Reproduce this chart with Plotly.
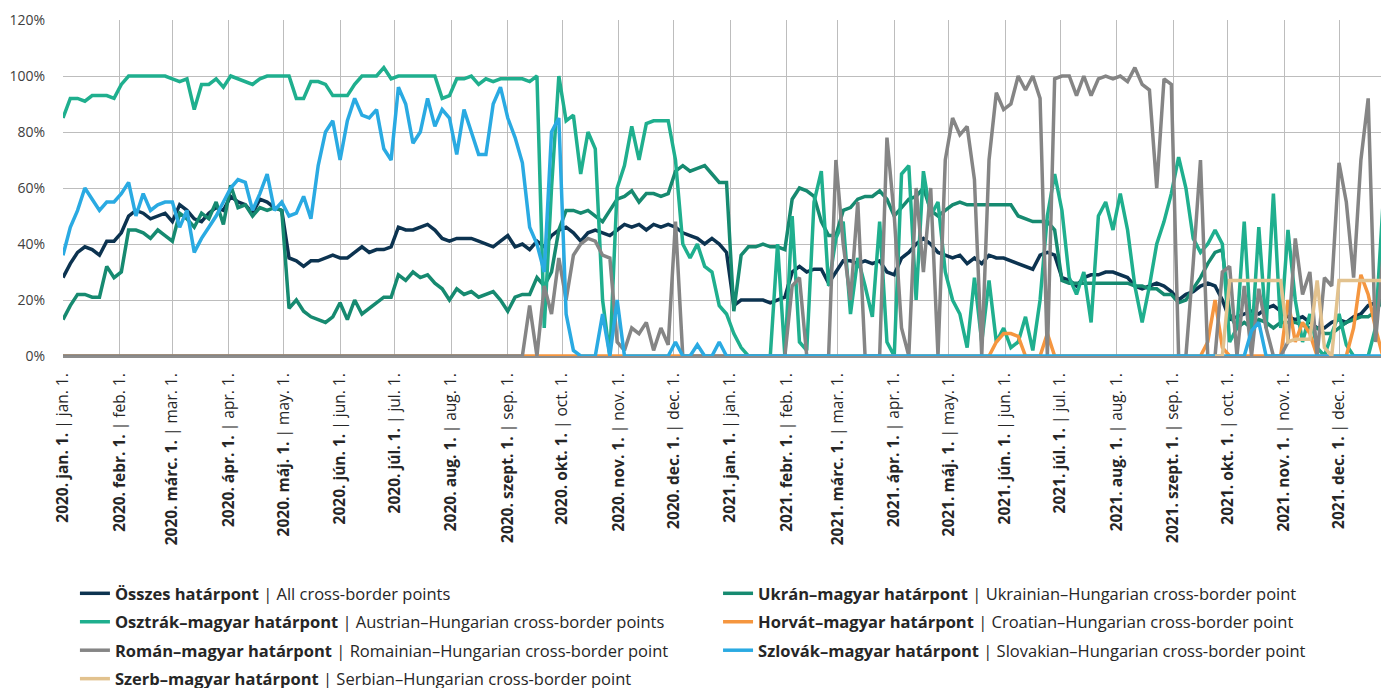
import pandas as pd
import plotly.graph_objects as go

# ---- data: 4-day sampling grid starting 2020-01-01 ----
dates = pd.date_range("2020-01-01", periods=183, freq="4D")

osszes = [
    28, 33, 37, 39, 38, 36, 41, 41, 44, 50, 52, 51, 49, 50, 51, 48, 54, 52, 49, 48, 51, 53, 52, 57, 55,
    54, 51, 56, 55, 53, 52, 35, 34, 32, 34, 34, 35, 36, 35, 35, 37, 39, 37, 38, 38, 39, 46, 45, 45, 46, 47, 45, 42, 41, 42, 42,
    42, 41, 40, 39, 41, 43, 39, 40, 38, 41, 39, 43, 45, 46, 44, 41, 44, 45, 44, 43, 45, 47, 46, 47, 45, 47, 46, 47, 46, 44, 43, 42,
    40, 42, 40, 37, 18, 20, 20, 20, 20, 19, 20, 21, 30, 32, 30, 31, 31, 26, 30, 34, 34, 33, 34, 33, 34, 30, 29, 35, 37, 40, 42,
    40, 37, 36, 35, 36, 33, 35, 33, 36, 35, 35, 34, 33, 32, 31, 36, 37, 36, 28, 27, 25, 28, 29, 29, 30, 30, 29, 28, 25, 24, 25, 26,
    25, 23, 20, 22, 23, 25, 26, 25, 20, 13, 14, 15, 16, 15, 17, 18, 16, 14, 13, 14, 12, 10, 10, 12, 13, 12, 14, 15, 18, 19, 20, 21,
]

osztrak = [
    85, 92, 92, 91, 93, 93, 93, 92, 97, 100, 100, 100, 100, 100, 100, 99, 98, 99, 88, 97, 97, 99, 96, 100, 99,
    98, 97, 99, 100, 100, 100, 100, 92, 92, 98, 98, 97, 93, 93, 93, 97, 100, 100, 100, 103, 99, 100, 100, 100, 100, 100, 100, 92, 93, 99, 99,
    100, 97, 99, 98, 99, 99, 99, 99, 98, 100, 10, 60, 100, 84, 86, 65, 80, 74, 20, 0, 60, 68, 82, 70, 83, 84, 84, 84, 70, 40, 35, 40,
    32, 30, 18, 15, 8, 3, 0, 0, 0, 0, 40, 0, 50, 5, 2, 55, 66, 25, 42, 48, 15, 35, 25, 14, 48, 5, 0, 65, 68, 20, 66,
    50, 55, 30, 20, 15, 3, 28, 5, 27, 5, 10, 3, 5, 14, 2, 20, 50, 65, 52, 28, 22, 30, 12, 50, 55, 45, 58, 45, 25, 12, 25, 40,
    48, 58, 71, 60, 42, 37, 40, 45, 40, 5, 10, 48, 5, 46, 10, 58, 10, 45, 20, 5, 15, 3, 0, 8, 15, 4, 0, 0, 0, 10, 53, 38,
]

ukran = [
    13, 18, 22, 22, 21, 21, 32, 28, 30, 45, 45, 44, 42, 45, 43, 41, 51, 49, 46, 51, 49, 55, 47, 61, 53,
    54, 50, 53, 52, 53, 52, 17, 20, 16, 14, 13, 12, 14, 19, 13, 20, 15, 17, 19, 21, 21, 29, 27, 30, 28, 29, 26, 24, 20, 24, 22,
    23, 21, 22, 23, 20, 16, 21, 22, 22, 28, 25, 30, 45, 52, 52, 51, 52, 50, 48, 52, 56, 57, 59, 55, 58, 58, 57, 58, 66, 68, 66, 67,
    68, 65, 62, 62, 16, 36, 39, 39, 40, 39, 39, 38, 56, 60, 59, 57, 48, 43, 43, 52, 53, 56, 57, 57, 59, 56, 50, 53, 56, 57, 60,
    52, 50, 52, 54, 55, 54, 54, 54, 54, 54, 54, 54, 50, 49, 48, 48, 48, 45, 27, 26, 26, 26, 26, 26, 26, 26, 26, 26, 25, 25, 24, 24,
    22, 22, 19, 20, 24, 28, 33, 37, 38, 15, 10, 12, 10, 13, 12, 10, 12, 12, 12, 11, 10, 10, 8, 8, 10, 12, 13, 14, 14, 16, 20, 22,
]

roman = [
    0, 0, 0, 0, 0, 0, 0, 0, 0, 0, 0, 0, 0, 0, 0, 0, 0, 0, 0, 0, 0, 0, 0, 0, 0,
    0, 0, 0, 0, 0, 0, 0, 0, 0, 0, 0, 0, 0, 0, 0, 0, 0, 0, 0, 0, 0, 0, 0, 0, 0, 0, 0, 0, 0, 0, 0,
    0, 0, 0, 0, 0, 0, 0, 0, 18, 0, 25, 15, 35, 20, 36, 40, 42, 41, 36, 35, 5, 2, 10, 8, 12, 2, 10, 4, 48, 0, 0, 0,
    0, 0, 0, 0, 0, 0, 0, 0, 0, 0, 0, 0, 25, 28, 0, 0, 0, 0, 70, 40, 20, 55, 0, 0, 0, 78, 50, 10, 0, 60, 30,
    60, 0, 70, 85, 79, 82, 63, 0, 70, 94, 88, 90, 100, 95, 100, 92, 0, 99, 100, 100, 93, 100, 93, 99, 100, 99, 100, 98, 103, 97, 95, 60,
    99, 97, 0, 0, 33, 70, 0, 0, 30, 32, 0, 25, 0, 24, 10, 0, 0, 5, 42, 22, 30, 0, 28, 25, 69, 55, 28, 70, 92, 5, 35, 40,
]

horvat = [
    0, 0, 0, 0, 0, 0, 0, 0, 0, 0, 0, 0, 0, 0, 0, 0, 0, 0, 0, 0, 0, 0, 0, 0, 0,
    0, 0, 0, 0, 0, 0, 0, 0, 0, 0, 0, 0, 0, 0, 0, 0, 0, 0, 0, 0, 0, 0, 0, 0, 0, 0, 0, 0, 0, 0, 0,
    0, 0, 0, 0, 0, 0, 0, 0, 0, 0, 0, 0, 0, 0, 0, 0, 0, 0, 0, 0, 0, 0, 0, 0, 0, 0, 0, 0, 0, 0, 0, 0,
    0, 0, 0, 0, 0, 0, 0, 0, 0, 0, 0, 0, 0, 0, 0, 0, 0, 0, 0, 0, 0, 0, 0, 0, 0, 0, 0, 0, 0, 0, 0,
    0, 0, 0, 0, 0, 0, 0, 0, 0, 5, 8, 8, 7, 0, 0, 0, 8, 0, 0, 0, 0, 0, 0, 0, 0, 0, 0, 0, 0, 0, 0, 0,
    0, 0, 0, 0, 0, 0, 5, 20, 3, 0, 0, 0, 0, 0, 0, 0, 0, 20, 5, 12, 8, 0, 0, 0, 0, 0, 10, 29, 22, 10, 0, 0,
]

szlovak = [
    36, 46, 52, 60, 56, 52, 55, 55, 58, 62, 50, 58, 52, 54, 55, 55, 46, 52, 37, 42, 46, 50, 55, 60, 63,
    62, 52, 58, 65, 52, 55, 50, 51, 57, 49, 68, 80, 84, 70, 84, 92, 86, 85, 88, 74, 70, 96, 90, 76, 80, 92, 82, 88, 85, 72, 88,
    80, 72, 72, 90, 96, 85, 78, 69, 46, 40, 30, 80, 85, 15, 2, 0, 0, 0, 15, 0, 20, 0, 0, 0, 0, 0, 0, 0, 5, 0, 0, 4,
    0, 0, 5, 0, 0, 0, 0, 0, 0, 0, 0, 0, 0, 0, 0, 0, 0, 0, 0, 0, 0, 0, 0, 0, 0, 0, 0, 0, 0, 0, 0,
    0, 0, 0, 0, 0, 0, 0, 0, 0, 0, 0, 0, 0, 0, 0, 0, 0, 0, 0, 0, 0, 0, 0, 0, 0, 0, 0, 0, 0, 0, 0, 0,
    0, 0, 0, 0, 0, 0, 0, 0, 0, 0, 0, 0, 9, 12, 0, 0, 0, 0, 0, 0, 0, 0, 0, 0, 0, 0, 0, 0, 0, 0, 0, 0,
]

# Serbian series starts late (from sampling index 158)
szerb_start = 158
szerb = [0, 0, 27, 27, 27, 27, 27, 27, 27, 27, 5, 6, 6, 6, 27, 3, 0, 27, 27, 27, 27, 27, 27, 27, 27]

tick_dates = [
    "2020-01-01", "2020-02-01", "2020-03-01", "2020-04-01", "2020-05-01", "2020-06-01",
    "2020-07-01", "2020-08-01", "2020-09-01", "2020-10-01", "2020-11-01", "2020-12-01",
    "2021-01-01", "2021-02-01", "2021-03-01", "2021-04-01", "2021-05-01", "2021-06-01",
    "2021-07-01", "2021-08-01", "2021-09-01", "2021-10-01", "2021-11-01", "2021-12-01",
]
tick_hu = [
    "2020. jan. 1.", "2020. febr. 1.", "2020. márc. 1.", "2020. ápr. 1.", "2020. máj. 1.", "2020. jún. 1.",
    "2020. júl. 1.", "2020. aug. 1.", "2020. szept. 1.", "2020. okt. 1.", "2020. nov. 1.", "2020. dec. 1.",
    "2021. jan. 1.", "2021. febr. 1.", "2021. márc. 1.", "2021. ápr. 1.", "2021. máj. 1.", "2021. jún. 1.",
    "2021. júl. 1.", "2021. aug. 1.", "2021. szept. 1.", "2021. okt. 1.", "2021. nov. 1.", "2021. dec. 1.",
]
tick_en = [
    "jan. 1.", "feb. 1.", "mar. 1.", "apr. 1.", "may. 1.", "jun. 1.",
    "jul. 1.", "aug. 1.", "sep. 1.", "oct. 1.", "nov. 1.", "dec. 1.",
    "jan. 1.", "feb. 1.", "mar. 1.", "apr. 1.", "may. 1.", "jun. 1.",
    "jul. 1.", "aug. 1.", "sep. 1.", "oct. 1.", "nov. 1.", "dec. 1.",
]
tick_text = [f"<b>{h}</b> | {e}" for h, e in zip(tick_hu, tick_en)]

# name, values, x, color, legend, rank  (drawing order = list order)
series = [
    ("<b>Összes határpont</b> | All cross-border points", osszes, dates, "#0c3350", "legend", 1),
    ("<b>Ukrán–magyar határpont</b> | Ukrainian–Hungarian cross-border point", ukran, dates, "#168a70", "legend2", 1),
    ("<b>Osztrák–magyar határpont</b> | Austrian–Hungarian cross-border points", osztrak, dates, "#1faf8e", "legend", 2),
    ("<b>Horvát–magyar határpont</b> | Croatian–Hungarian cross-border point", horvat, dates, "#f5963f", "legend2", 2),
    ("<b>Román–magyar határpont</b> | Romainian–Hungarian cross-border point", roman, dates, "#858585", "legend", 3),
    ("<b>Szlovák–magyar határpont</b> | Slovakian–Hungarian cross-border point", szlovak, dates, "#2aaae2", "legend2", 3),
    ("<b>Szerb–magyar határpont</b> | Serbian–Hungarian cross-border point", szerb, dates[szerb_start:], "#e2c28e", "legend", 4),
]

fig = go.Figure()
for k, (name, vals, xs, color, leg, rank) in enumerate(series):
    fig.add_trace(go.Scatter(
        x=xs, y=vals, name=name, mode="lines",
        line=dict(color=color, width=3.5),
        legend=leg, legendrank=rank, legendgroup=f"g{k}",
        hoverinfo="skip",
    ))

FONT = "Open Sans, Lato, sans-serif"

# the page body adds an 8px offset; margins compensate so the plot sits where the reference has it
fig.update_layout(
    width=1389, height=688,
    margin=dict(l=55, r=8, t=12, b=340, autoexpand=False),
    paper_bgcolor="white", plot_bgcolor="white",
    font=dict(family=FONT, color="#262626"),
    xaxis=dict(
        type="date", automargin=False,
        range=["2020-01-01", "2021-12-28 10:00"],
        tickvals=tick_dates, ticktext=tick_text,
        tickangle=-90, tickfont=dict(size=15.5, color="#262626"),
        showgrid=True, gridcolor="#bdbdbd", gridwidth=1.2,
        showline=True, linecolor="#8c8c8c", linewidth=2,
        ticks="outside", ticklen=9, tickcolor="rgba(0,0,0,0)", zeroline=False,
    ),
    yaxis=dict(
        automargin=False,
        range=[0, 120], tickvals=[0, 20, 40, 60, 80, 100, 120],
        ticktext=["0%", "20%", "40%", "60%", "80%", "100%", "120%"],
        tickfont=dict(size=14, color="#404040"),
        showgrid=True, gridcolor="#bdbdbd", gridwidth=1.2,
        zeroline=False, showline=False,
        ticks="outside", ticklen=14, tickcolor="rgba(0,0,0,0)",
    ),
    legend=dict(
        orientation="v", x=0.009, xanchor="left", y=-0.655, yanchor="top",
        font=dict(size=16.5, color="#262626", family=FONT),
        tracegroupgap=4, bgcolor="rgba(0,0,0,0)",
    ),
    legend2=dict(
        orientation="v", x=0.494, xanchor="left", y=-0.655, yanchor="top",
        font=dict(size=16.5, color="#262626", family=FONT),
        tracegroupgap=4, bgcolor="rgba(0,0,0,0)",
    ),
    showlegend=True,
)

fig.write_html("out.html")
